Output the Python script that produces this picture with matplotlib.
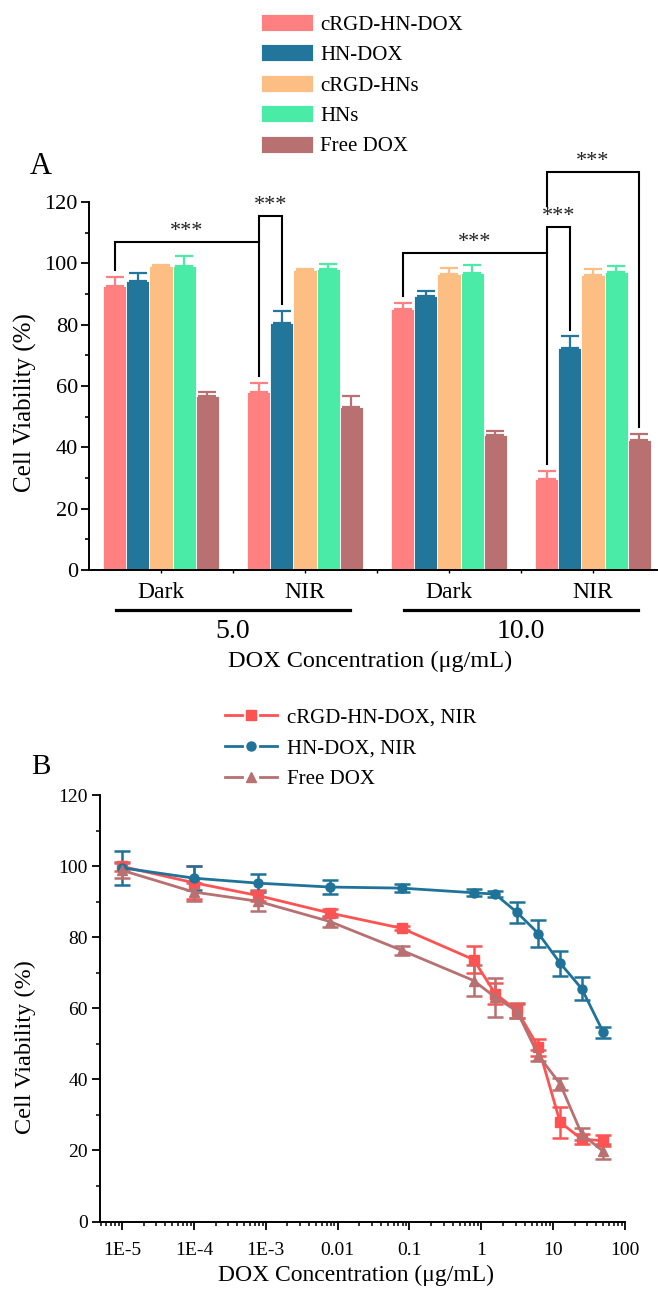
import numpy as np
import matplotlib.pyplot as plt
from matplotlib.lines import Line2D
from matplotlib.patches import Patch
from matplotlib.legend_handler import HandlerBase
from matplotlib.ticker import MultipleLocator, LogLocator, NullFormatter, FixedLocator
import matplotlib.transforms as mtransforms

plt.rcParams["font.family"] = ["Liberation Serif", "DejaVu Serif"]
plt.rcParams["mathtext.fontset"] = "stix"

# ---- Panel A data (cell viability, %) ----
group_labels = ["Dark", "NIR", "Dark", "NIR"]
dose_labels = ["5.0", "10.0"]
bar_names = ["cRGD-HN-DOX", "HN-DOX", "cRGD-HNs", "HNs", "Free DOX"]
bar_colors = ["#FF8080", "#22769C", "#FDBE83", "#4AEBA6", "#B87070"]

crgd_hn_dox = [92.5, 57.9, 85.1, 29.7]
crgd_hn_dox_err = [3.1, 3.0, 2.1, 2.7]
hn_dox = [94.3, 80.7, 89.5, 72.5]
hn_dox_err = [2.5, 3.8, 1.5, 3.7]
crgd_hns = [99.0, 97.7, 96.6, 96.3]
crgd_hns_err = [0.3, 0.5, 1.9, 1.9]
hns = [99.2, 98.2, 97.0, 97.3]
hns_err = [3.3, 1.6, 2.3, 1.7]
free_dox = [56.8, 53.3, 44.1, 42.4]
free_dox_err = [1.3, 3.5, 1.2, 1.9]

# significance brackets: (group a, bar a, group b, bar b, height, left leg end)
brackets = [
    (0, 0, 1, 0, 107.1, None),
    (1, 0, 1, 1, 115.3, 107.1),
    (2, 0, 3, 0, 103.4, None),
    (3, 0, 3, 1, 111.8, 103.4),
    (3, 0, 3, 4, 129.8, 118.6),
]

# ---- Panel B data ----
conc = [1e-5, 1e-4, 7.8e-4, 7.8e-3, 7.8e-2, 0.78, 1.56, 3.125, 6.25, 12.5, 25, 50]
red_nir = [99.9, 95.3, 91.7, 86.8, 82.5, 73.7, 64.1, 59.4, 49.0, 27.9, 23.2, 22.7]
red_nir_err = [1.3, 4.7, 1.5, 1.0, 0.6, 3.8, 3.0, 2.2, 2.4, 4.3, 1.3, 1.5]
hn_nir = [99.5, 96.6, 95.2, 94.1, 93.8, 92.5, 92.1, 87.0, 81.0, 72.7, 65.5, 53.2]
hn_nir_err = [4.8, 3.3, 2.5, 2.0, 1.2, 1.0, 0.8, 2.9, 3.7, 3.5, 3.3, 1.5]
dox_line = [98.8, 92.7, 90.1, 84.4, 76.3, 67.8, 63.1, 59.2, 46.7, 38.7, 24.6, 19.7]
dox_line_err = [2.2, 2.4, 2.8, 1.6, 1.2, 4.3, 5.5, 2.0, 1.5, 1.7, 1.6, 2.0]
xtick_vals = [1e-5, 1e-4, 1e-3, 0.01, 0.1, 1, 10, 100]
xtick_labels = ["1E-5", "1E-4", "1E-3", "0.01", "0.1", "1", "10", "100"]

W, H = 658, 1292
fig = plt.figure(figsize=(W / 100, H / 100), dpi=100)


def fx(px):
    return px / W


def fy(px):
    return 1 - px / H


# ================= Panel A =================
axA = fig.add_axes([fx(89), fy(570), fx(658 - 89), (570 - 202) / H])
series = [crgd_hn_dox, hn_dox, crgd_hns, hns, free_dox]
errs = [crgd_hn_dox_err, hn_dox_err, crgd_hns_err, hns_err, free_dox_err]
bw = 0.16
xg = np.arange(len(group_labels))
offsets = (np.arange(5) - 2) * bw
for i in range(5):
    xs = xg + offsets[i]
    axA.bar(xs, series[i], width=bw, color=bar_colors[i], edgecolor="white",
            linewidth=0.6, zorder=2)
    axA.errorbar(xs, series[i], yerr=[np.zeros(4), errs[i]], fmt="none",
                 ecolor=bar_colors[i], elinewidth=1.6, capsize=6.5, capthick=1.6,
                 zorder=3)

for ga, ba, gb, bb, h, left_end in brackets:
    xa = ga + offsets[ba]
    xb = gb + offsets[bb]
    ya = series[ba][ga] + errs[ba][ga] + 2.2 if left_end is None else left_end
    yb = series[bb][gb] + errs[bb][gb] + 2.2
    axA.plot([xa, xa, xb, xb], [ya, h, h, yb], color="black", lw=1.5,
             clip_on=False, zorder=4, solid_joinstyle="miter")
    axA.text((xa + xb) / 2, h + 0.3, "***", ha="center", va="bottom",
             fontsize=16, color="#222222", clip_on=False)

axA.set_xlim(-0.5, (658 - 161) / 144)
axA.set_ylim(0, 120)
axA.spines["top"].set_visible(False)
axA.spines["right"].set_visible(False)
for s in ["left", "bottom"]:
    axA.spines[s].set_linewidth(1.4)
axA.yaxis.set_major_locator(MultipleLocator(20))
axA.yaxis.set_minor_locator(MultipleLocator(10))
axA.tick_params(axis="y", which="major", direction="out", length=6, width=1.3,
                labelsize=16, pad=2)
axA.tick_params(axis="y", which="minor", direction="out", length=3, width=1.2)
axA.set_xticks(xg)
axA.set_xticklabels(group_labels, fontsize=17)
axA.xaxis.set_minor_locator(FixedLocator(xg[:-1] + 0.5))
axA.tick_params(axis="x", which="both", direction="out", length=2.5, width=1, pad=6.5)

# dose underlines and labels
trA = mtransforms.blended_transform_factory(axA.transData, axA.transAxes)
for k, lab in enumerate(dose_labels):
    x0 = 2 * k - 0.31
    x1 = 2 * k + 1 + 0.31
    axA.add_line(Line2D([x0, x1], [-0.109, -0.109], transform=trA, color="black",
                        lw=2.3, clip_on=False))
    axA.text(2 * k + 0.5, -0.166, lab, transform=trA, ha="center", va="center",
             fontsize=20)
fig.text(fx(370), fy(661), "DOX Concentration (μg/mL)", ha="center", va="center",
         fontsize=17.5)
fig.text(fx(25), fy(403), "Cell Viability (%)", rotation=90, ha="center",
         va="center", fontsize=18)
fig.text(fx(41), fy(167), "A", ha="center", va="center", fontsize=22)

handles = [Patch(facecolor=c, edgecolor="white", linewidth=0.6) for c in bar_colors]
fig.legend(handles, bar_names, loc="upper left", bbox_to_anchor=(fx(261), fy(14)),
           frameon=False, fontsize=15, handlelength=2.5, handleheight=0.87,
           labelspacing=0.47, handletextpad=0.34, borderpad=0, borderaxespad=0)

# ================= Panel B =================
axB = fig.add_axes([fx(100.5), fy(1221.5), fx(625 - 100.5), (1221.5 - 795) / H])
line_specs = [
    ("cRGD-HN-DOX, NIR", red_nir, red_nir_err, "#FF5252", "s"),
    ("HN-DOX, NIR", hn_nir, hn_nir_err, "#1F7399", "o"),
    ("Free DOX", dox_line, dox_line_err, "#B87070", "^"),
]
proxies = []
for name, vals, err, col, mk in line_specs:
    axB.errorbar(conc, vals, yerr=err, color=col, lw=2, marker=mk, markersize=6.5,
                 ecolor=col, elinewidth=1.8, capsize=6, capthick=1.8)
    proxies.append(Line2D([], [], color=col, lw=2, marker=mk, markersize=6.5))

axB.set_xscale("log")
axB.set_xlim(5e-6, 100)
axB.set_ylim(0, 120)
axB.spines["top"].set_visible(False)
axB.spines["right"].set_visible(False)
for s in ["left", "bottom"]:
    axB.spines[s].set_linewidth(1.4)
axB.set_xticks(xtick_vals)
axB.set_xticklabels(xtick_labels, fontsize=14)
axB.xaxis.set_minor_locator(LogLocator(base=10, subs=np.arange(2, 10), numticks=20))
axB.xaxis.set_minor_formatter(NullFormatter())
axB.yaxis.set_major_locator(MultipleLocator(20))
axB.yaxis.set_minor_locator(MultipleLocator(10))
axB.tick_params(axis="both", which="major", direction="out", length=5.5, width=1.3,
                labelsize=14)
axB.tick_params(axis="both", which="minor", direction="out", length=3, width=1.1)
axB.tick_params(axis="x", which="major", pad=9)
fig.text(fx(356), fy(1275), "DOX Concentration (μg/mL)", ha="center", va="center",
         fontsize=17)
fig.text(fx(25), fy(1047), "Cell Viability (%)", rotation=90, ha="center",
         va="center", fontsize=17.5)
fig.text(fx(41), fy(767), "B", ha="center", va="center", fontsize=21)


class GapLineHandler(HandlerBase):
    """Legend entry drawn as line - marker - line with small gaps."""

    def create_artists(self, legend, orig_handle, xdescent, ydescent, width,
                       height, fontsize, trans):
        y = height / 2 - ydescent
        x0 = -xdescent
        col = orig_handle.get_color()
        lw = orig_handle.get_linewidth()
        seg1 = Line2D([x0, x0 + 0.33 * width], [y, y], color=col, lw=lw)
        seg2 = Line2D([x0 + 0.67 * width, x0 + width], [y, y], color=col, lw=lw)
        mk = Line2D([x0 + 0.5 * width], [y], color=col, marker=orig_handle.get_marker(),
                    markersize=orig_handle.get_markersize(), linestyle="none")
        for a in (seg1, seg2, mk):
            a.set_transform(trans)
        return [seg1, seg2, mk]


fig.legend(proxies, [s[0] for s in line_specs], loc="upper left",
           bbox_to_anchor=(fx(225), fy(708)), frameon=False, fontsize=15,
           handlelength=2.5, labelspacing=0.54, handletextpad=0.48, borderpad=0,
           borderaxespad=0, handler_map={Line2D: GapLineHandler()})

fig.savefig("out.png", dpi=100)
